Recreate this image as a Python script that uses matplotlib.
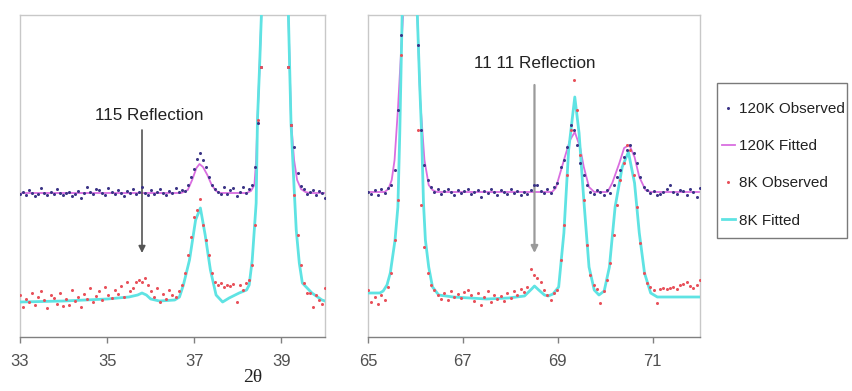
import matplotlib
matplotlib.use("Agg")
import matplotlib.pyplot as plt
from matplotlib import font_manager
from matplotlib.lines import Line2D
from matplotlib.patches import Rectangle
import numpy as np

# ---------------------------------------------------------------- data
# observed points: sampled every 0.07 deg from the left edge of each panel
obs_step = 0.07
left_start = 33.0
right_start = 65.0

left_obs120 = [
    141, 143, 140, 145, 142, 139, 141, 147, 142, 140,
    143, 141, 146, 142, 140, 142, 143, 139, 141, 144,
    137, 142, 148, 143, 141, 146, 145, 142, 140, 147,
    143, 141, 145, 142, 139, 144, 142, 146, 141, 143,
    148, 142, 140, 145, 141, 143, 146, 142, 140, 144,
    142, 147, 143, 145, 144, 150, 158, 166, 176, 182,
    175, 168, 158, 150, 146, 143, 141, 148, 141, 145,
    147, 139, 143, 148, 142, 146, 150, 168, 212, 268,
    420, 600, 780, 880, 890, 820, 650, 450, 268, 210,
    188, 162, 149, 146, 141, 143, 145, 140, 144, 142,
    137,
]
left_obs8 = [
    40, 28, 36, 33, 42, 30, 38, 44, 35, 27,
    40, 37, 31, 42, 29, 36, 30, 45, 34, 38,
    28, 41, 36, 47, 33, 39, 44, 35, 48, 40,
    37, 45, 41, 49, 38, 53, 44, 47, 53, 55,
    53, 57, 50, 44, 38, 47, 33, 41, 36, 45,
    40, 38, 44, 50, 62, 80, 98, 118, 125, 136,
    110, 95, 80, 62, 53, 50, 52, 48, 50, 49,
    51, 33, 50, 45, 52, 55, 70, 110, 215, 268,
    420, 650, 800, 900, 900, 800, 650, 420, 268, 210,
    140, 100, 70, 52, 42, 42, 28, 40, 35, 31,
    47,
]
right_obs120 = [
    143, 141, 145, 140, 146, 142, 147, 150, 165, 225,
    300, 470, 680, 640, 450, 290, 205, 170, 155, 148,
    143, 146, 141, 144, 146, 143, 140, 145, 142, 144,
    146, 141, 143, 145, 138, 144, 142, 146, 143, 140,
    145, 143, 141, 146, 142, 144, 140, 143, 141, 145,
    150, 150, 144, 142, 146, 142, 148, 152, 168, 175,
    188, 210, 205, 190, 172, 160, 150, 143, 141, 145,
    143, 140, 145, 142, 150, 158, 165, 178, 185, 190,
    182, 172, 158, 148, 145, 142, 144, 140, 141, 143,
    146, 150, 143, 141, 145, 144, 140, 146, 143, 138,
    147,
]
right_obs8 = [
    45, 33, 38, 31, 40, 35, 48, 62, 95, 135,
    280, 520, 780, 560, 330, 205, 130, 88, 62, 50,
    45, 40, 36, 42, 35, 44, 38, 41, 37, 43,
    45, 40, 34, 42, 30, 38, 44, 33, 40, 36,
    39, 34, 42, 37, 44, 40, 46, 43, 48, 66,
    60, 57, 53, 45, 40, 35, 42, 45, 75, 110,
    160, 205, 255, 225, 180, 135, 90, 60, 50, 46,
    32, 44, 55, 72, 100, 130, 155, 172, 190, 185,
    160, 128, 92, 62, 52, 48, 45, 32, 46, 47,
    46, 47, 48, 46, 50, 51, 53, 49, 47, 50,
    55,
]

left_fit120_x = [33.0, 36.7, 36.85, 36.95, 37.05, 37.12, 37.2, 37.3, 37.4, 37.5, 37.6,
                 38.2, 38.3, 38.38, 38.42, 38.45, 38.5, 38.54, 38.6, 38.7, 38.85, 39.0,
                 39.1, 39.16, 39.22, 39.29, 39.36, 39.45, 39.55, 39.65, 40.0]
left_fit120_y = [142, 142, 145, 155, 167, 171, 168, 160, 150, 144, 142,
                 142, 144, 150, 175, 215, 270, 320, 420, 650, 800, 650,
                 420, 320, 215, 175, 155, 146, 143, 142, 142]
left_fit8_x = [33.0, 34.0, 35.0, 35.5, 35.7, 35.8, 35.9, 36.0, 36.2, 36.55, 36.66,
               36.75, 36.89, 37.03, 37.14, 37.25, 37.37, 37.5, 37.65, 37.8, 38.03,
               38.2, 38.26, 38.33, 38.42, 38.45, 38.5, 38.54, 38.6, 38.7, 38.85, 39.0,
               39.1, 39.16, 39.22, 39.29, 39.34, 39.41, 39.48, 39.7, 39.93, 40.0]
left_fit8_y = [33, 34, 36, 38, 40, 42, 40, 36, 34, 35, 38,
               50, 75, 115, 127, 100, 65, 40, 33, 37, 42,
               45, 50, 75, 132, 215, 270, 320, 420, 650, 800, 650,
               420, 320, 212, 148, 105, 72, 52, 42, 35, 34]
right_fit120_x = [65.0, 65.35, 65.43, 65.5, 65.56, 65.63, 65.74, 65.8, 65.88, 65.96,
                  66.04, 66.1, 66.19, 66.28, 66.36, 66.45, 68.88, 68.96, 69.04, 69.15,
                  69.26, 69.36, 69.47, 69.55, 69.66, 69.77, 70.05, 70.15, 70.3, 70.4,
                  70.51, 70.62, 70.72, 70.85, 70.96, 72.0]
right_fit120_y = [143, 143, 146, 155, 175, 225, 320, 500, 700, 500,
                  320, 235, 175, 150, 145, 143, 143, 147, 160, 178,
                  195, 203, 188, 168, 148, 143, 143, 152, 172, 187,
                  190, 178, 158, 145, 143, 143]
right_fit8_x = [65.0, 65.25, 65.32, 65.4, 65.47, 65.57, 65.63, 65.67, 65.72, 65.8,
                65.88, 65.96, 66.04, 66.09, 66.13, 66.17, 66.21, 66.28, 66.36, 66.49,
                66.8, 67.5, 67.96, 68.3, 68.45, 68.51, 68.6, 68.72, 68.8, 68.9, 69.02,
                69.13, 69.23, 69.36, 69.45, 69.55, 69.66, 69.77, 69.87, 69.98, 70.09,
                70.21, 70.36, 70.49, 70.62, 70.72, 70.83, 70.96, 71.1, 72.0]
right_fit8_y = [42, 42, 44, 50, 62, 95, 128, 202, 320, 600,
                800, 600, 320, 250, 202, 132, 95, 68, 48, 40,
                38, 36, 37, 39, 46, 49, 45, 40, 39, 41, 48,
                102, 185, 238, 202, 135, 68, 45, 40, 44, 68,
                128, 168, 183, 152, 102, 62, 42, 38, 38]

left_ticks = [33, 35, 37, 39]
right_ticks = [65, 67, 69, 71]
series_labels = ["120K Observed", "120K Fitted", "8K Observed", "8K Fitted"]

# ---------------------------------------------------------------- style
def has_font(name):
    try:
        font_manager.findfont(name, fallback_to_default=False)
        return True
    except Exception:
        return False

sans = "Liberation Sans" if has_font("Liberation Sans") else "DejaVu Sans"
narrow = "Liberation Sans Narrow" if has_font("Liberation Sans Narrow") else sans
serif = "Liberation Serif" if has_font("Liberation Serif") else "DejaVu Serif"
plt.rcParams["font.family"] = sans

c_obs120 = "#3b3486"
c_fit120 = "#d96ee0"
c_obs8 = "#e8505a"
c_fit8 = "#5fe3e3"
frame_col = "#c8c8c8"

W, H = 853, 391
fig = plt.figure(figsize=(W / 100, H / 100), dpi=100)
ax_l = fig.add_axes([20 / W, (H - 337) / H, 305 / W, 322 / H])
ax_r = fig.add_axes([368 / W, (H - 337) / H, 332 / W, 322 / H])

panels = [
    (ax_l, left_start, left_obs120, left_obs8, left_fit120_x, left_fit120_y,
     left_fit8_x, left_fit8_y, (33, 40), left_ticks),
    (ax_r, right_start, right_obs120, right_obs8, right_fit120_x, right_fit120_y,
     right_fit8_x, right_fit8_y, (65, 72), right_ticks),
]

for ax, x0, o120, o8, f120x, f120y, f8x, f8y, xlim, ticks in panels:
    xo120 = x0 + obs_step * np.arange(len(o120))
    xo8 = x0 + obs_step * np.arange(len(o8))
    ax.plot(f120x, f120y, color=c_fit120, lw=1.3, zorder=2)
    ax.plot(xo120, o120, ls="none", marker="o", ms=2.2, mew=0, color=c_obs120, zorder=4)
    ax.plot(f8x, f8y, color=c_fit8, lw=2.0, zorder=3)
    ax.plot(xo8, o8, ls="none", marker="o", ms=2.2, mew=0, color=c_obs8, zorder=4)
    ax.set_xlim(*xlim)
    ax.set_ylim(-2, 320)
    ax.set_yticks([])
    ax.set_xticks(ticks)
    ax.set_xticklabels([str(t) for t in ticks], family=narrow, fontsize=12, color="#505050")
    ax.tick_params(axis="x", direction="out", length=4, width=1, color="#808080", pad=8)
    for side in ["left", "top", "right"]:
        ax.spines[side].set_color(frame_col)
        ax.spines[side].set_linewidth(1)
    ax.spines["bottom"].set_color("#808080")
    ax.spines["bottom"].set_linewidth(1)

# reflection markers
ax_l.text(35.97, 220, "115 Reflection", ha="center", va="center", fontsize=12.3, color="#222222")
ax_l.annotate("", xy=(35.8, 82), xytext=(35.8, 205),
              arrowprops=dict(arrowstyle="-|>", color="#555555", lw=1.2,
                              mutation_scale=10, shrinkA=0, shrinkB=0))
ax_r.text(68.51, 272, "11 11 Reflection", ha="center", va="center", fontsize=12.3, color="#222222")
ax_r.annotate("", xy=(68.51, 82), xytext=(68.51, 250),
              arrowprops=dict(arrowstyle="-|>", color="#9a9a9a", lw=1.6,
                              mutation_scale=10, shrinkA=0, shrinkB=0))

fig.text(253 / W, 1 - 378 / H, "2\u03b8", ha="center", va="center",
         family=serif, fontsize=14, color="#222222")

# legend: frame drawn separately so the padding matches the original box
fig.patches.append(Rectangle((717 / W, 1 - 238 / H), 130 / W, 155 / H,
                             transform=fig.transFigure, facecolor="white",
                             edgecolor="#7a7a7a", lw=1, zorder=1))
handles = [
    Line2D([], [], ls="none", marker="o", ms=2.2, mew=0, color=c_obs120),
    Line2D([], [], color=c_fit120, lw=1.3),
    Line2D([], [], ls="none", marker="o", ms=2.2, mew=0, color=c_obs8),
    Line2D([], [], color=c_fit8, lw=2.0),
]
leg = fig.legend(handles, series_labels, loc="upper left",
                 bbox_to_anchor=(722 / W, 1 - 102 / H), borderaxespad=0,
                 fontsize=11, frameon=False, labelspacing=1.52,
                 handlelength=0.85, handletextpad=0.25, borderpad=0)
leg.set_zorder(5)
for t in leg.get_texts():
    t.set_color("#222222")

fig.savefig("out.png", dpi=100)
